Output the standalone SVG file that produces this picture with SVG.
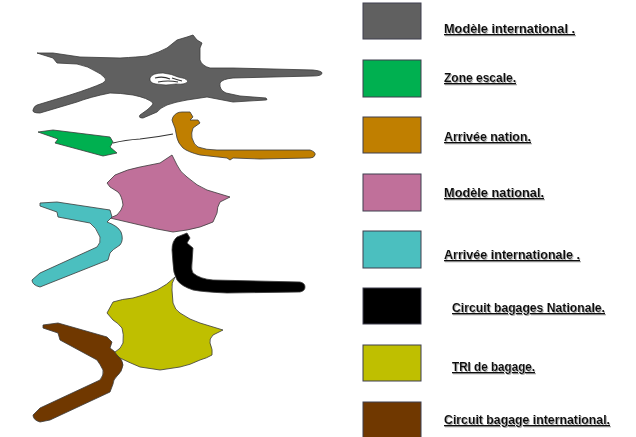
<svg xmlns="http://www.w3.org/2000/svg" width="636" height="437" viewBox="0 0 636 437">
<defs>
<style>
.blob{stroke:#3a3a3a;stroke-width:0.8;stroke-linejoin:round}
.key{stroke:#3f3f4f;stroke-width:1}
.lbl{font-family:"Liberation Sans",Arial,sans-serif;font-weight:bold;font-size:13.5px;fill:#111;text-decoration:underline;filter:url(#sh)}
</style>
<filter id="sh" x="-5%" y="-30%" width="110%" height="160%">
<feDropShadow dx="1" dy="1" stdDeviation="0.6" flood-color="#888" flood-opacity="0.7"/>
</filter>
</defs>

<g id="plan">
<g id="modele-international">
<path class="blob" fill="#606060" d="M37,53 L53,53 L80,57 L120,58 Q138,57 147,56 Q160,52 167,48 L177,40 L187,37 L193,35 L197,40 L202,43 L200,48 L200,60 Q202,66 210,68 L233,68 L313,70 Q322,71 322,73 Q322,76 313,76 L233,78 Q222,79 220,83 Q219,90 226,93 L240,96 L266,98 Q268,100 266,100 L233,102 L207,97 L187,100 Q175,102 167,105 Q160,108 157,112 L143,118 Q138,118 140,115 L147,110 Q153,105 153,103 Q148,98 133,95 Q120,93 110,93 Q90,97 77,102 L40,113 Q32,113 33,110 Q34,106 37,105 L70,95 Q92,88 103,83 Q107,80 105,78 Q100,73 97,72 Q88,66 77,64 L57,63 L53,58 Z"/>
<path fill="#fff" stroke="#222" stroke-width="0.6" d="M150,78 Q152,73 163,73 Q172,74 178,77 Q186,78 188,81 Q186,85 176,84 Q166,86 156,84 Q149,83 150,78 Z"/>
<path fill="none" stroke="#333" stroke-width="1.2" d="M155,78 Q163,76 170,79 M158,82 Q168,80 178,82 M172,78 Q178,80 182,81"/>
</g>

<g id="zone-escale">
<path class="blob" fill="#00b050" d="M38,132 L53,130 L110,137 L113,142 L110,147 L117,153 L103,156 L55,143 L58,139 Z"/>
<path fill="none" stroke="#333" stroke-width="1.2" d="M113,143 Q125,140 140,139 Q158,137 173,134"/>
</g>

<g id="arrivee-nation">
<path class="blob" fill="#c07f00" d="M173,117 Q176,112 182,112 L190,112 L193,117 L190,120 L198,120 L200,123 L193,128 Q191,133 192,138 Q194,145 198,147 Q206,150 217,150 L310,150 Q316,152 315,155 Q314,158 310,158 L260,159 L233,158 L230,160 L227,158 L200,155 Q188,152 183,148 Q178,143 177,138 L175,128 L173,123 L172,120 Z"/>
</g>

<g id="modele-national">
<path class="blob" fill="#c0709a" d="M172,155 L177,165 Q180,172 187,177 Q197,186 207,190 L230,197 L220,202 Q217,207 217,213 L213,222 Q200,228 187,230 L173,232 Q155,229 140,225 L110,218 L117,215 Q122,210 123,205 Q122,196 118,192 L110,187 L107,183 L115,175 Q128,169 140,167 L160,163 Z"/>
</g>

<g id="arrivee-internationale">
<path class="blob" fill="#4bbfbf" d="M40,203 L57,202 L110,210 L112,217 L107,222 Q118,226 121,232 Q124,240 120,245 Q112,250 110,253 L108,260 L50,283 L40,287 Q32,285 32,280 L40,273 L97,247 Q101,243 100,237 Q96,227 90,223 L58,217 L57,212 L40,206 Z"/>
</g>

<g id="circuit-bagages-nationale">
<path class="blob" fill="#000" d="M177,237 L187,233 L190,238 L187,243 L193,248 L192,263 Q191,270 193,273 Q200,279 213,280 L300,282 Q305,283 305,287 Q305,291 300,292 L227,293 Q203,292 193,290 Q181,286 177,280 Q173,273 173,263 L172,250 Q172,241 177,237 Z"/>
</g>

<g id="tri-de-bagage">
<path class="blob" fill="#bfbf00" d="M175,277 Q171,283 172,290 L173,303 Q175,310 180,313 Q190,320 200,323 L223,330 L213,335 Q209,339 210,343 Q213,350 212,355 Q207,358 200,360 Q190,365 180,367 L160,370 L140,367 Q128,362 120,358 L110,353 L115,352 Q121,349 123,343 Q124,334 122,328 Q118,323 113,320 L107,313 L113,302 Q122,299 133,298 Q145,295 157,290 Q167,285 175,277 Z"/>
</g>

<g id="circuit-bagage-international">
<path class="blob" fill="#703800" d="M43,325 L58,323 L107,337 L112,342 L110,348 Q115,351 117,355 Q123,360 123,365 Q122,372 117,376 Q113,380 113,384 L110,392 L50,420 L40,422 Q33,420 33,415 L40,408 L100,380 Q104,375 103,370 Q100,364 97,360 L60,340 L58,333 L43,328 Z"/>
</g>
</g>

<g id="legend">
<g id="key-1"><rect class="key" x="363" y="3" width="58" height="36" fill="#606060"/><text class="lbl" x="444" y="33" textLength="131" lengthAdjust="spacingAndGlyphs">Modèle international .</text></g>
<g id="key-2"><rect class="key" x="363" y="60" width="58" height="37" fill="#00b050"/><text class="lbl" x="444" y="82" textLength="72" lengthAdjust="spacingAndGlyphs">Zone escale.</text></g>
<g id="key-3"><rect class="key" x="363" y="117" width="58" height="36" fill="#c07f00"/><text class="lbl" x="444" y="141" textLength="87" lengthAdjust="spacingAndGlyphs">Arrivée nation.</text></g>
<g id="key-4"><rect class="key" x="363" y="174" width="58" height="37" fill="#c0709a"/><text class="lbl" x="444" y="197" textLength="100" lengthAdjust="spacingAndGlyphs">Modèle national.</text></g>
<g id="key-5"><rect class="key" x="363" y="231" width="58" height="37" fill="#4bbfbf"/><text class="lbl" x="444" y="259" textLength="136" lengthAdjust="spacingAndGlyphs">Arrivée internationale .</text></g>
<g id="key-6"><rect class="key" x="363" y="288" width="58" height="36" fill="#000"/><text class="lbl" x="452" y="312" textLength="153" lengthAdjust="spacingAndGlyphs">Circuit bagages Nationale.</text></g>
<g id="key-7"><rect class="key" x="363" y="345" width="58" height="36" fill="#bfbf00"/><text class="lbl" x="452" y="371" textLength="83" lengthAdjust="spacingAndGlyphs">TRI de bagage.</text></g>
<g id="key-8"><rect class="key" x="363" y="402" width="58" height="37" fill="#703800"/><text class="lbl" x="444" y="424" textLength="166" lengthAdjust="spacingAndGlyphs">Circuit bagage international.</text></g>
</g>
</svg>
